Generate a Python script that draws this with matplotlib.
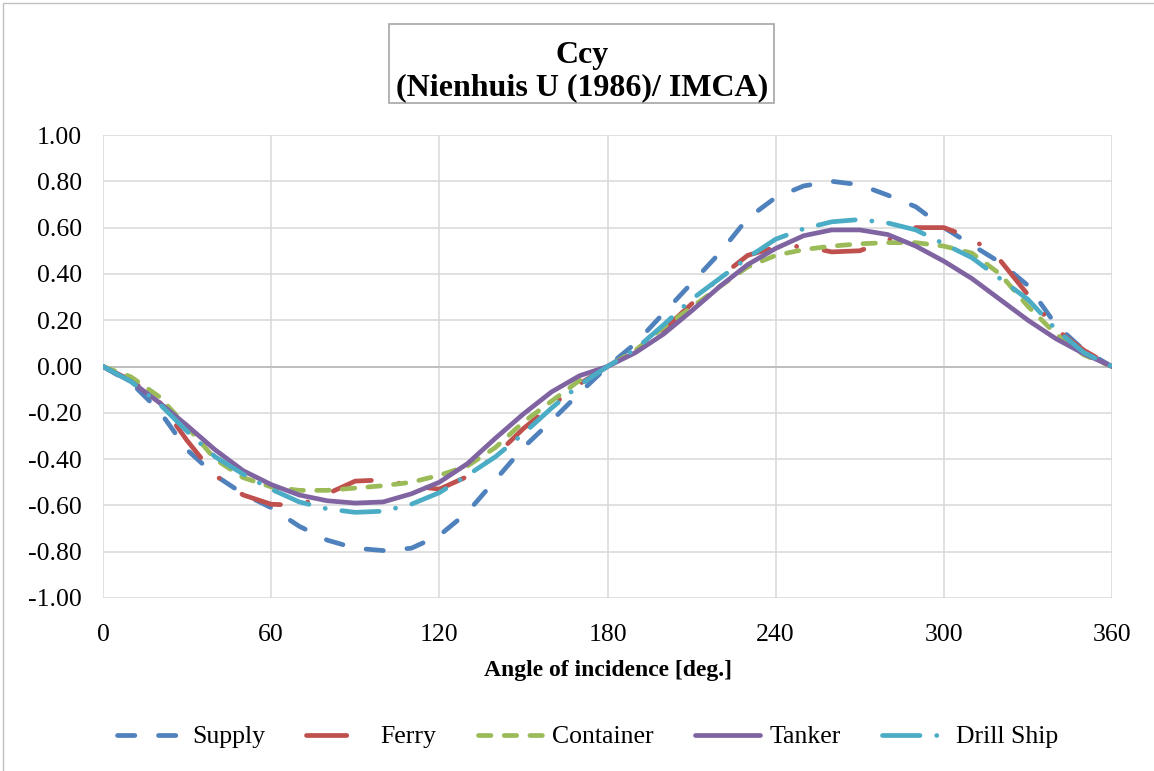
import matplotlib
matplotlib.use("Agg")
import matplotlib.pyplot as plt
from matplotlib.patches import Rectangle
from matplotlib.ticker import FormatStrFormatter

plt.rcParams['font.family'] = ['Liberation Serif', 'DejaVu Serif']
plt.rcParams['axes.unicode_minus'] = False
plt.rcParams['lines.scale_dashes'] = False

# ---- data ----
angles = list(range(0, 361, 10))
supply = [0, -0.07, -0.19, -0.36, -0.47, -0.55, -0.61, -0.69, -0.75, -0.785, -0.795, -0.785,
          -0.73, -0.63, -0.49, -0.35, -0.235, -0.115, 0, 0.10, 0.23, 0.36, 0.49, 0.64,
          0.73, 0.78, 0.80, 0.785, 0.74, 0.69, 0.60, 0.525, 0.45, 0.35, 0.18, 0.07, 0]
ferry = [0, -0.06, -0.15, -0.32, -0.47, -0.555, -0.595, -0.60, -0.55, -0.495, -0.49, -0.515,
         -0.53, -0.475, -0.385, -0.268, -0.17, -0.075, 0, 0.07, 0.16, 0.27, 0.385, 0.48,
         0.515, 0.52, 0.495, 0.50, 0.545, 0.60, 0.60, 0.555, 0.46, 0.31, 0.16, 0.07, 0]
container = [0, -0.045, -0.13, -0.26, -0.40, -0.48, -0.52, -0.535, -0.535, -0.525, -0.515, -0.50,
             -0.47, -0.43, -0.35, -0.24, -0.15, -0.06, 0, 0.07, 0.17, 0.255, 0.345, 0.43,
             0.48, 0.505, 0.52, 0.53, 0.535, 0.535, 0.52, 0.49, 0.40, 0.26, 0.14, 0.05, 0]
tanker = [0, -0.065, -0.155, -0.255, -0.36, -0.45, -0.51, -0.555, -0.58, -0.59, -0.585, -0.55,
          -0.50, -0.42, -0.31, -0.205, -0.11, -0.04, 0, 0.06, 0.14, 0.24, 0.345, 0.44,
          0.51, 0.565, 0.59, 0.59, 0.57, 0.52, 0.455, 0.38, 0.29, 0.20, 0.12, 0.055, 0]
drill = [0, -0.065, -0.16, -0.28, -0.39, -0.465, -0.53, -0.585, -0.615, -0.63, -0.625, -0.595,
         -0.545, -0.47, -0.39, -0.29, -0.18, -0.08, 0, 0.075, 0.18, 0.29, 0.38, 0.47,
         0.55, 0.595, 0.625, 0.635, 0.62, 0.59, 0.53, 0.47, 0.38, 0.29, 0.16, 0.06, 0]

series_names = ["Supply", "Ferry", "Container", "Tanker", "Drill Ship"]
x_ticks = [0, 60, 120, 180, 240, 300, 360]
y_ticks = [-1.0, -0.8, -0.6, -0.4, -0.2, 0.0, 0.2, 0.4, 0.6, 0.8, 1.0]

colors = ["#4F81BD", "#C0504D", "#9BBB59", "#8064A2", "#4BACC6"]
styles = [(0, (12.5, 17)),
          (0, (29, 20, 0.1, 20)),
          (0, (9, 9.5)),
          '-',
          (0, (27, 12, 0.1, 12))]

W, H = 1154, 771
fig = plt.figure(figsize=(W / 100, H / 100), dpi=100)
ax = fig.add_axes([103 / W, 1 - 598 / H, (1112 - 103) / W, (598 - 135) / H])

for yv, name, c, ls in zip([supply, ferry, container, tanker, drill], series_names, colors, styles):
    ax.plot(angles, yv, color=c, lw=3.4, linestyle=ls, label=name,
            solid_capstyle='round', dash_capstyle='round', solid_joinstyle='round')

ax.set_xlim(0, 360)
ax.set_ylim(-1, 1)
ax.set_xticks(x_ticks)
ax.set_yticks(y_ticks)
ax.yaxis.set_major_formatter(FormatStrFormatter('%.2f'))
ax.grid(True, color='#D9D9D9', lw=1.1)
ax.set_axisbelow(True)
ax.axhline(0, color='#BFBFBF', lw=1.4, zorder=1)
for s in ax.spines.values():
    s.set_visible(False)
ax.tick_params(length=0, labelsize=18.5, pad=15)
ax.tick_params(axis='x', pad=19)
ax.set_xlabel("Angle of incidence [deg.]", fontsize=17, fontweight='bold', labelpad=10)

# outer chart border
fig.patches.append(Rectangle((3 / W, -0.05), 1.1, 1 - 3 / H + 0.05, transform=fig.transFigure,
                             fill=False, edgecolor='#BFBFBF', lw=1.0))
# title box
fig.patches.append(Rectangle((389 / W, 1 - 103 / H), (774 - 389) / W, (103 - 24) / H,
                             transform=fig.transFigure, fill=False, edgecolor='#A6A6A6', lw=1.2))
fig.text(582 / W, 1 - 56 / H, "Ccy", ha='center', va='center', fontsize=23, fontweight='bold')
fig.text(582 / W, 1 - 88 / H, "(Nienhuis U (1986)/ IMCA)", ha='center', va='center',
         fontsize=23, fontweight='bold')

fig.legend(loc='center', bbox_to_anchor=(588 / W, 1 - 737 / H), ncol=5, frameon=False,
           fontsize=18.5, handlelength=2.55, handletextpad=0.35, columnspacing=1.6)

fig.savefig("out.png", dpi=100)
